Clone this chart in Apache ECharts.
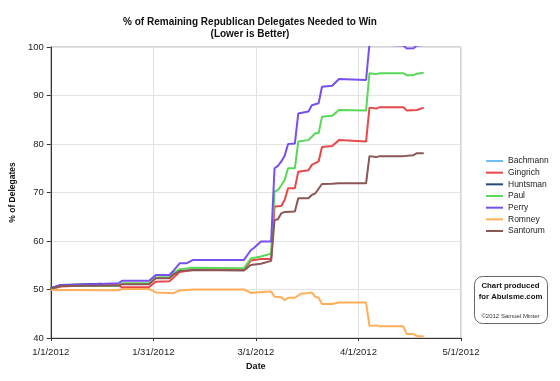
<!DOCTYPE html>
<html><head><meta charset="utf-8">
<script src="https://cdn.jsdelivr.net/npm/echarts@6/dist/echarts.min.js"></script>
<style>html,body{margin:0;padding:0;background:#fff}#c{width:560px;height:381px}</style>
</head><body><div id="c"></div>
<script>
const titleText = '% of Remaining Republican Delegates Needed to Win\n(Lower is Better)';
const yAxisTitle = '% of Delegates';
const xAxisTitle = 'Date';
const xTickLabels = ['1/1/2012', '1/31/2012', '3/1/2012', '4/1/2012', '5/1/2012'];
const candidates = ['Bachmann', 'Gingrich', 'Huntsman', 'Paul', 'Perry', 'Romney', 'Santorum'];

const bachmannDates = ['1/1', '1/4'];
const bachmannValues = [50.25, 50.9];

const gingrichDates = ['1/1', '1/4', '1/11', '1/21', '1/22', '1/30', '2/1', '2/5', '2/6', '2/8', '2/12', '2/27', '2/29', '3/3', '3/6', '3/7', '3/9', '3/10', '3/11', '3/13', '3/14', '3/17', '3/18', '3/20', '3/21', '3/24', '3/26', '4/3', '4/4', '4/6', '4/7', '4/14', '4/15', '4/18', '4/20'];
const gingrichValues = [50.1, 50.6, 50.8, 50.9, 50.45, 50.5, 51.6, 51.7, 52.3, 53.6, 54.0, 54.0, 56.0, 56.3, 56.3, 67.1, 67.2, 68.5, 70.9, 70.9, 74.3, 74.6, 75.7, 76.4, 79.4, 79.6, 80.8, 80.5, 87.5, 87.3, 87.6, 87.6, 86.9, 87.0, 87.5];

const huntsmanDates = ['1/1', '1/4', '1/11', '1/16'];
const huntsmanValues = [50.25, 50.95, 51.1, 51.2];

const paulDates = ['1/1', '1/4', '1/21', '1/22', '1/30', '2/1', '2/5', '2/6', '2/8', '2/12', '2/27', '2/29', '3/3', '3/6', '3/7', '3/8', '3/9', '3/10', '3/11', '3/13', '3/14', '3/17', '3/18', '3/19', '3/20', '3/21', '3/24', '3/26', '4/3', '4/4', '4/6', '4/7', '4/14', '4/15', '4/17', '4/18', '4/20'];
const paulValues = [50.2, 50.7, 50.7, 51.3, 51.3, 52.5, 52.6, 53.3, 54.2, 54.5, 54.4, 56.4, 56.8, 57.4, 70.2, 70.5, 71.5, 72.6, 75.0, 75.0, 80.5, 80.8, 81.5, 82.2, 82.2, 85.6, 85.8, 87.0, 86.9, 94.6, 94.4, 94.6, 94.6, 94.2, 94.2, 94.5, 94.7];

const perryDates = ['1/1', '1/4', '1/11', '1/21', '1/22', '1/30', '2/1', '2/5', '2/6', '2/8', '2/10', '2/12', '2/27', '2/29', '3/1', '3/3', '3/6', '3/7', '3/8', '3/9', '3/10', '3/11', '3/13', '3/14', '3/17', '3/18', '3/20', '3/21', '3/24', '3/26', '4/3', '4/4', '4/14', '4/15', '4/17', '4/18', '4/20'];
const perryValues = [50.25, 50.9, 51.05, 51.3, 51.8, 51.8, 53.0, 53.0, 53.7, 55.4, 55.4, 56.1, 56.1, 58.1, 58.6, 59.9, 59.9, 75.0, 75.5, 76.4, 77.6, 80.0, 80.1, 86.3, 86.7, 88.0, 88.4, 91.8, 92.0, 93.4, 93.2, 100.6, 100.3, 99.7, 99.75, 100.3, 100.4];

const romneyDates = ['1/1', '1/21', '1/22', '1/30', '2/1', '2/5', '2/6', '2/8', '2/12', '2/27', '2/29', '3/3', '3/6', '3/7', '3/9', '3/10', '3/11', '3/13', '3/15', '3/16', '3/18', '3/19', '3/20', '3/21', '3/24', '3/26', '4/3', '4/4', '4/6', '4/7', '4/14', '4/15', '4/17', '4/18', '4/20'];
const romneyValues = [49.9, 49.85, 50.1, 50.1, 49.4, 49.3, 49.2, 49.8, 50.0, 50.0, 49.3, 49.5, 49.6, 48.5, 48.4, 47.8, 48.3, 48.3, 49.2, 49.2, 49.4, 48.5, 48.3, 47.0, 47.0, 47.3, 47.3, 42.5, 42.6, 42.4, 42.4, 40.8, 40.8, 40.4, 40.3];

const santorumDates = ['1/1', '1/4', '1/21', '1/22', '1/30', '2/1', '2/5', '2/6', '2/8', '2/12', '2/27', '2/29', '3/3', '3/6', '3/7', '3/8', '3/9', '3/10', '3/13', '3/14', '3/17', '3/18', '3/19', '3/21', '3/24', '3/26', '4/3', '4/4', '4/6', '4/7', '4/14', '4/17', '4/18', '4/20'];
const santorumValues = [50.2, 50.7, 50.8, 51.1, 51.1, 52.3, 52.3, 53.0, 53.8, 54.0, 53.9, 55.05, 55.3, 55.9, 64.3, 64.5, 65.7, 66.0, 66.1, 68.8, 68.8, 69.5, 69.8, 71.75, 71.8, 71.9, 71.9, 77.5, 77.3, 77.5, 77.5, 77.7, 78.1, 78.1];

const colors = {
  Bachmann: '#6ec0f2', Gingrich: '#e8484a', Huntsman: '#284878', Paul: '#5ad85a',
  Perry: '#7850f0', Romney: '#ffae58', Santorum: '#8a5656'
};

const seriesDates = [bachmannDates, gingrichDates, huntsmanDates, paulDates, perryDates, romneyDates, santorumDates];
const seriesValues = [bachmannValues, gingrichValues, huntsmanValues, paulValues, perryValues, romneyValues, santorumValues];

function dayOf(md) {
  const p = md.split('/').map(Number);
  return Math.round((Date.UTC(2012, p[0] - 1, p[1]) - Date.UTC(2012, 0, 1)) / 86400000);
}
const TICK = 121 / 4;
const FONT = '"Liberation Sans", Arial, sans-serif';

const chart = echarts.init(document.getElementById('c'), null, { renderer: 'canvas' });
chart.setOption({
  animation: false,
  backgroundColor: '#fff',
  title: {
    text: titleText, left: 245, top: 11, textAlign: 'center',
    textStyle: { fontFamily: FONT, fontSize: 10, fontWeight: 'bold', color: '#111', lineHeight: 12 }
  },
  legend: {
    orient: 'vertical', left: 481, top: 151,
    data: candidates, icon: 'rect', itemWidth: 17, itemHeight: 2, itemGap: 1.67, itemTextGap: 2,
    textStyle: { fontFamily: FONT, fontSize: 8.5, color: '#222', lineHeight: 10 }
  },
  grid: { left: 47, right: 99, top: 47, bottom: 43, show: true, borderColor: '#aaa', borderWidth: 1 },
  xAxis: {
    type: 'value', min: 0, max: 121, interval: TICK,
    name: xAxisTitle, nameLocation: 'middle', nameGap: 22,
    nameTextStyle: { fontFamily: FONT, fontSize: 9, fontWeight: 'bold', color: '#111' },
    axisLine: { show: true, lineStyle: { color: '#333', width: 1 } },
    axisTick: { show: true, length: 3, lineStyle: { color: '#333' } },
    axisLabel: {
      margin: 9, fontFamily: FONT, fontSize: 9.5, color: '#222',
      formatter: v => xTickLabels[Math.round(v / TICK)] || ''
    },
    splitLine: { show: true, lineStyle: { color: '#e2e2e2', width: 1 } }
  },
  yAxis: {
    type: 'value', min: 40, max: 100, interval: 10,
    name: yAxisTitle, nameLocation: 'middle', nameGap: 30, nameRotate: 90,
    nameTextStyle: { fontFamily: FONT, fontSize: 8.5, fontWeight: 'bold', color: '#111' },
    axisLine: { show: true, lineStyle: { color: '#333', width: 1 } },
    axisTick: { show: true, length: 4, lineStyle: { color: '#333' } },
    axisLabel: { margin: 7, fontFamily: FONT, fontSize: 9.5, color: '#222' },
    splitLine: { show: true, lineStyle: { color: '#e2e2e2', width: 1 } }
  },
  series: candidates.map((name, i) => ({
    name, type: 'line', showSymbol: false, symbol: 'none', clip: true,
    color: colors[name],
    lineStyle: { width: 2, color: colors[name] },
    data: seriesDates[i].map((d, j) => [dayOf(d), seriesValues[i][j]])
  })),
  graphic: [
    { type: 'rect', left: 474, top: 276, shape: { width: 73, height: 47, r: 8 },
      style: { fill: '#fff', stroke: '#666', lineWidth: 1 } },
    { type: 'text', x: 510.5, y: 285.5,
      style: { text: 'Chart produced', align: 'center', verticalAlign: 'middle', font: 'bold 7.8px ' + FONT, fill: '#111' } },
    { type: 'text', x: 510.5, y: 296.5,
      style: { text: 'for Abulsme.com', align: 'center', verticalAlign: 'middle', font: 'bold 7.8px ' + FONT, fill: '#111' } },
    { type: 'text', x: 510.5, y: 316.5,
      style: { text: '©2012 Samuel Minter', align: 'center', verticalAlign: 'middle', font: '6px ' + FONT, fill: '#333' } }
  ]
});
</script></body></html>
